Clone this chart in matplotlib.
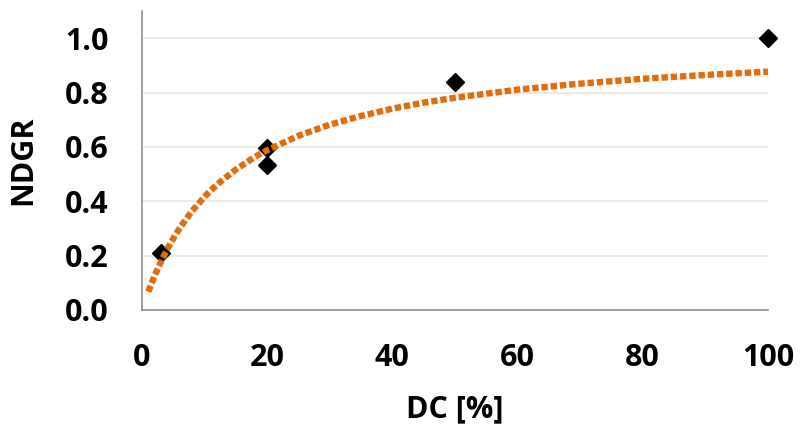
import matplotlib
matplotlib.use("Agg")
import matplotlib.pyplot as plt

# measured points
dc = [3, 20, 20, 50, 100]
ndgr = [0.21, 0.595, 0.535, 0.84, 1.0]

# trend line
fit_x = [1, 2, 3, 4, 5, 6, 7, 8, 10, 12, 15, 18, 20, 25, 30, 35, 40, 45, 50,
         60, 70, 80, 90, 100]
fit_y = [0.067, 0.125, 0.176, 0.222, 0.263, 0.30, 0.333, 0.364, 0.417, 0.462,
         0.517, 0.563, 0.588, 0.641, 0.682, 0.714, 0.741, 0.763, 0.781,
         0.811, 0.833, 0.851, 0.865, 0.877]

y_ticks = [0.0, 0.2, 0.4, 0.6, 0.8, 1.0]
x_ticks = [0, 20, 40, 60, 80, 100]

plt.rcParams['font.family'] = ['Open Sans', 'DejaVu Sans']

fig = plt.figure(figsize=(8, 4.28), dpi=100)
ax = fig.add_axes([0.1775, 0.276, 0.7825, 0.698])

for yv in y_ticks[1:]:
    ax.axhline(yv, color='#EEEADF', lw=1.5, zorder=0)

# markers first, trend line drawn over them (as in Excel)
ax.plot(dc, ndgr, linestyle='none', marker='D', color='black', markersize=9,
        zorder=2, clip_on=False)
ax.plot(fit_x, fit_y, color='#E46C0A', lw=4.6, linestyle=(0, (1, 0.45)),
        dash_capstyle='butt', zorder=3, clip_on=False)

ax.set_xlim(0, 100)
ax.set_ylim(0, 1.1)
ax.set_xticks(x_ticks)
ax.set_yticks(y_ticks)
ax.set_yticklabels([f'{v:.1f}' for v in y_ticks])
ax.tick_params(length=0, labelsize=22, pad=24)
for lab in ax.get_xticklabels() + ax.get_yticklabels():
    lab.set_fontweight('bold')

for s in ['top', 'right']:
    ax.spines[s].set_visible(False)
for s in ['left', 'bottom']:
    ax.spines[s].set_color('#8C8C8C')
    ax.spines[s].set_linewidth(1.2)

ax.set_xlabel('DC [%]', fontsize=22, fontweight='bold', labelpad=15)
ax.set_ylabel('NDGR', fontsize=22, fontweight='bold', labelpad=19)

fig.savefig('out.png', dpi=100)
